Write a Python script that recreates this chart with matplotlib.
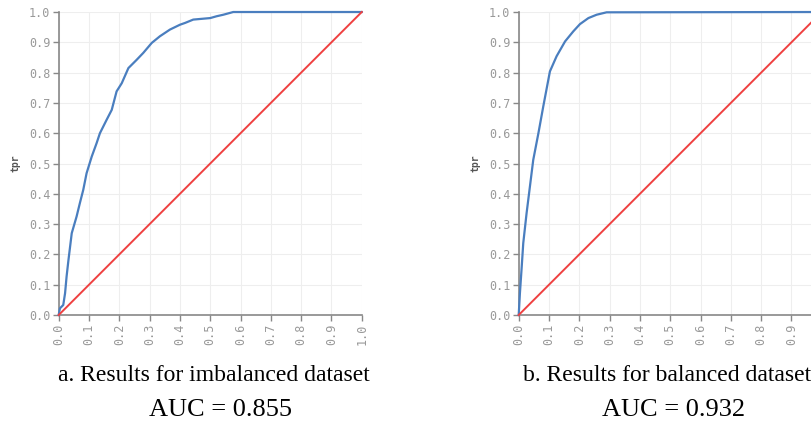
import numpy as np
import matplotlib.pyplot as plt

# ROC-kurver lest av bildet
fpr_imb = [0.0, 0.004, 0.015, 0.021, 0.026, 0.032, 0.043, 0.059, 0.07, 0.081, 0.092,
           0.109, 0.125, 0.136, 0.158, 0.175, 0.191, 0.208, 0.23, 0.257, 0.279,
           0.307, 0.334, 0.367, 0.40, 0.417, 0.444, 0.5, 0.521, 0.543, 0.576, 1.0]
tpr_imb = [0.0, 0.022, 0.033, 0.072, 0.127, 0.18, 0.27, 0.325, 0.37, 0.413, 0.468,
           0.523, 0.567, 0.6, 0.644, 0.677, 0.738, 0.765, 0.815, 0.842, 0.865,
           0.898, 0.92, 0.942, 0.958, 0.964, 0.975, 0.98, 0.986, 0.991, 1.0, 1.0]

fpr_bal = [0.0, 0.004, 0.01, 0.015, 0.026, 0.037, 0.048, 0.065, 0.081, 0.103, 0.125,
           0.153, 0.18, 0.202, 0.23, 0.257, 0.29, 1.0]
tpr_bal = [0.0, 0.072, 0.16, 0.237, 0.336, 0.424, 0.512, 0.6, 0.688, 0.804, 0.854,
           0.903, 0.936, 0.96, 0.98, 0.991, 0.999, 1.0]

diag = [0.0, 1.0]
ticks = np.round(np.arange(0, 1.01, 0.1), 1)
tick_labels = [f"{t:.1f}" for t in ticks]

captions = ["a. Results for imbalanced dataset", "b. Results for balanced dataset"]
auc_text = ["AUC = 0.855", "AUC = 0.932"]

BLUE = "#4a7ebf"
RED = "#ef4040"
GRAY = "#999999"

fig = plt.figure(figsize=(8.12, 4.23), dpi=100, facecolor="white")

panels = [
    (0.0723, fpr_imb, tpr_imb, 0.264, captions[0], auc_text[0]),
    (0.6388, fpr_bal, tpr_bal, 0.822, captions[1], auc_text[1]),
]

for i, (left, fx, ty, cx, cap, auc) in enumerate(panels):
    ax = fig.add_axes([left, 0.2553, 0.3732, 0.7163])
    ax.plot(fx, ty, color=BLUE, lw=1.6, zorder=3, clip_on=False)
    ax.plot(diag, diag, color=RED, lw=1.4, zorder=3, clip_on=False)
    ax.set_xlim(0, 1)
    ax.set_ylim(0, 1)
    ax.set_xticks(ticks)
    ax.set_yticks(ticks)
    xl = list(tick_labels)
    if i == 1:
        xl[-1] = ""  # utenfor bildet i originalen
    ax.set_xticklabels(xl, rotation=90, family="DejaVu Sans Mono",
                       fontsize=8.5, color=GRAY)
    ax.set_yticklabels(tick_labels, family="DejaVu Sans Mono",
                       fontsize=8.5, color=GRAY)
    ax.grid(True, color="#eeeeee", lw=0.8)
    ax.set_axisbelow(True)
    for s in ["top", "right"]:
        ax.spines[s].set_visible(False)
    for s in ["left", "bottom"]:
        ax.spines[s].set_color("#888888")
        ax.spines[s].set_linewidth(1.2)
    ax.tick_params(length=4, width=1, color="#888888", pad=2)
    ax.set_ylabel("tpr", family="DejaVu Sans Mono", fontsize=7, fontweight="bold",
                  color="#555555", labelpad=6)

    fig.text(cx, 0.113, cap, ha="center", va="center",
             family="Liberation Serif", fontsize=17)
    fig.text(cx + 0.008, 0.03, auc, ha="center", va="center",
             family="Liberation Serif", fontsize=19)

plt.savefig("out.png", dpi=100, facecolor="white")
plt.close()
